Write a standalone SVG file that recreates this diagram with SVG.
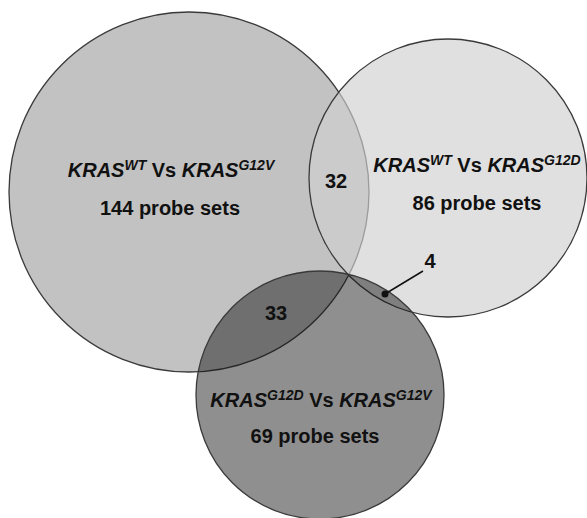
<svg xmlns="http://www.w3.org/2000/svg" width="587" height="518" viewBox="0 0 587 518">
<style>
.set{stroke:#3a3a3a;stroke-width:1.3}
.lbl{font-family:"Liberation Sans",Arial,Helvetica,sans-serif;font-weight:bold;font-size:20px;fill:#111;text-anchor:middle}
.it{font-style:italic}
.sup{font-style:italic;font-size:14px}
</style>
<rect width="587" height="518" fill="#ffffff"/>
<g id="set-kras-wt-g12v">
<circle class="set" cx="189" cy="192" r="180" fill="#c2c2c2"/>
<text class="lbl" x="171" y="177"><tspan class="it">KRAS</tspan><tspan class="sup" dy="-7">WT</tspan><tspan dy="7"> Vs </tspan><tspan class="it">KRAS</tspan><tspan class="sup" dy="-7">G12V</tspan></text>
<text class="lbl" x="170" y="215">144 probe sets</text>
</g>
<g id="set-kras-wt-g12d">
<circle class="set" cx="448" cy="178" r="139" fill="#d0d0d0" fill-opacity="0.656"/>
<text class="lbl" x="477" y="172"><tspan class="it">KRAS</tspan><tspan class="sup" dy="-7">WT</tspan><tspan dy="7"> Vs </tspan><tspan class="it">KRAS</tspan><tspan class="sup" dy="-7">G12D</tspan></text>
<text class="lbl" x="477" y="210">86 probe sets</text>
</g>
<g id="set-kras-g12d-g12v">
<circle class="set" cx="320" cy="395" r="124" fill="#131313" fill-opacity="0.475"/>
<text class="lbl" x="321" y="407"><tspan class="it">KRAS</tspan><tspan class="sup" dy="-7">G12D</tspan><tspan dy="7"> Vs </tspan><tspan class="it">KRAS</tspan><tspan class="sup" dy="-7">G12V</tspan></text>
<text class="lbl" x="315" y="443">69 probe sets</text>
</g>
<g id="overlap-labels">
<text class="lbl" x="336" y="188">32</text>
<text class="lbl" x="276" y="320">33</text>
<text class="lbl" x="430" y="268">4</text>
</g>
<g id="connectors">
<line x1="385" y1="294" x2="423" y2="271" stroke="#111" stroke-width="1.5"/>
<circle cx="385" cy="294" r="3.5" fill="#111"/>
</g>
</svg>
